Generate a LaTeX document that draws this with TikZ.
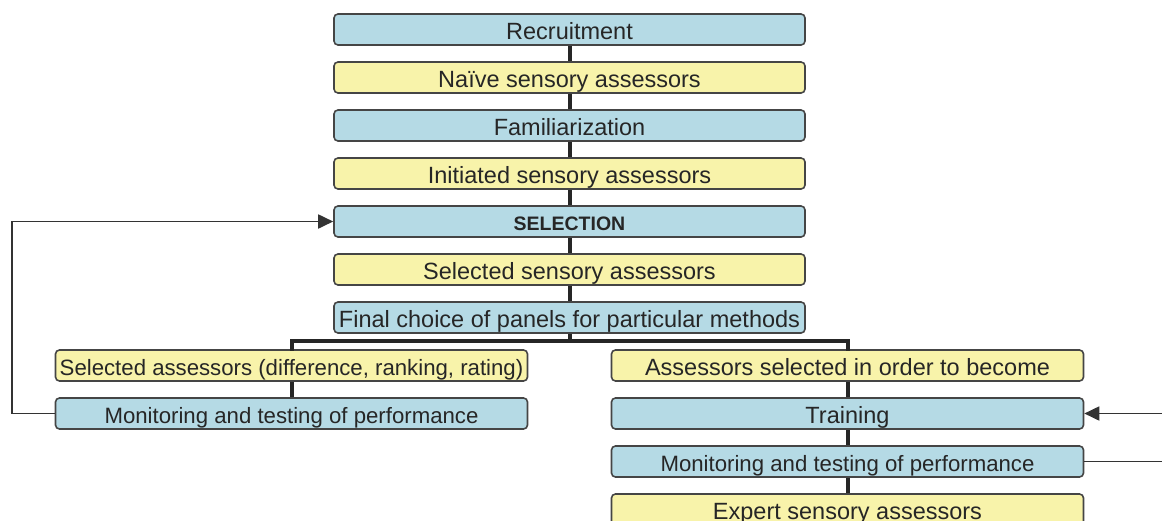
\documentclass[tikz,border=0pt]{standalone}
\usepackage{fontspec}
\setmainfont{Liberation Sans}
\usetikzlibrary{arrows.meta}
\definecolor{boxblue}{HTML}{B5DAE5}
\definecolor{boxyellow}{HTML}{F8F3AA}
\definecolor{edge}{HTML}{454545}
\begin{document}
\begin{tikzpicture}[x=1pt,y=-1pt,
  box/.style={draw=edge,line width=1.6pt,rounded corners=4pt,minimum height=31pt,inner sep=0pt,
    text height=20pt,text depth=0pt,
    font=\fontsize{23.5}{25}\selectfont,text=black!85},
  narrow/.style={font=\fontsize{22.2}{24}\selectfont},
  cbox/.style={box,minimum width=471pt},
  sbox/.style={box,minimum width=472pt},
  blue/.style={fill=boxblue},
  yel/.style={fill=boxyellow},
  link/.style={line width=4pt,draw=black!85},
  fb/.style={line width=1.8pt,draw=black!80},
  arr/.style={fb,-{Triangle[length=15pt,width=14pt]}}]
\useasboundingbox (0,0) rectangle (1162,520);
% central column
\node[cbox,blue] (rec) at (569.5,29.5) {Recruitment};
\node[cbox,yel] (nai) at (569.5,77.5) {Naïve sensory assessors};
\node[cbox,blue] (fam) at (569.5,125.5) {Familiarization};
\node[cbox,yel] (ini) at (569.5,173.5) {Initiated sensory assessors};
\node[cbox,blue,font=\fontsize{19.5}{22}\selectfont\bfseries,text height=17pt] (sel) at (569.5,221.5) {SELECTION};
\node[cbox,yel] (ssa) at (569.5,269.5) {Selected sensory assessors};
\node[cbox,blue] (fin) at (569.5,317.5) {Final choice of panels for particular methods};
% left column
\node[sbox,yel,narrow] (lsa) at (291.5,365.5) {Selected assessors (difference, ranking, rating)};
\node[sbox,blue,narrow] (lmo) at (291.5,413.5) {Monitoring and testing of performance};
% right column
\node[sbox,yel] (ras) at (847.5,365.5) {Assessors selected in order to become};
\node[sbox,blue] (rtr) at (847.5,413.5) {Training};
\node[sbox,blue,narrow] (rmo) at (847.5,461.5) {Monitoring and testing of performance};
\node[sbox,yel] (rex) at (847.5,509.5) {Expert sensory assessors};
% vertical links
\draw[link] (rec.south) -- (nai.north);
\draw[link] (nai.south) -- (fam.north);
\draw[link] (fam.south) -- (ini.north);
\draw[link] (ini.south) -- (sel.north);
\draw[link] (sel.south) -- (ssa.north);
\draw[link] (ssa.south) -- (fin.north);
\coordinate (br) at (569.5,341);
\draw[link] (fin.south) -- (br);
\draw[link,line cap=rect] (lsa.north) |- (br) -| (ras.north);
\draw[link] (lsa.south) -- (lmo.north);
\draw[link] (ras.south) -- (rtr.north);
\draw[link] (rtr.south) -- (rmo.north);
\draw[link] (rmo.south) -- (rex.north);
% feedback loops
\coordinate (lc) at (12,413.5);
\draw[arr] (lmo.west) -- (lc) |- (sel.west);
\coordinate (rin) at (1162,413.5);
\coordinate (rout) at (1162,461.5);
\draw[arr] (rin) -- (rtr.east);
\draw[fb] (rmo.east) -- (rout);
\end{tikzpicture}
\end{document}
